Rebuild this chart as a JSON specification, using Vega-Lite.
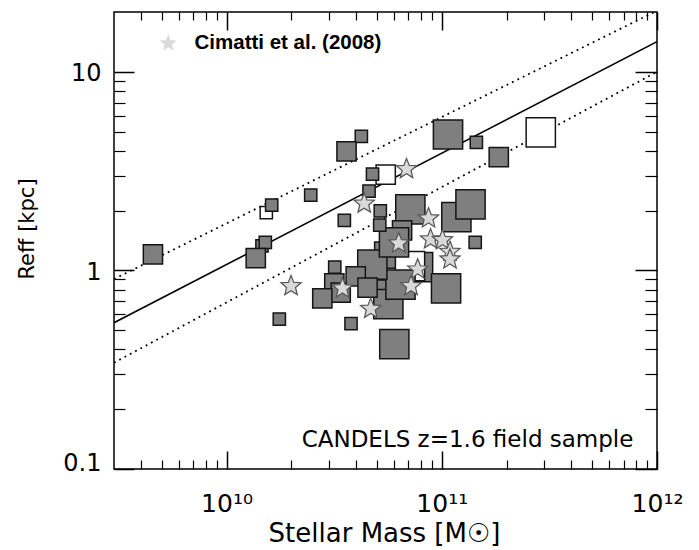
{
  "$schema": "https://vega.github.io/schema/vega-lite/v6.json",
  "width": 543,
  "height": 457,
  "autosize": "none",
  "padding": {"left": 114, "top": 12, "right": 42, "bottom": 81},
  "background": "white",
  "config": {
    "view": {"stroke": "black", "strokeWidth": 1.5},
    "axis": {
      "grid": false,
      "domain": false,
      "tickColor": "black",
      "labelColor": "black",
      "titleColor": "black",
      "labelFont": "DejaVu Sans",
      "titleFont": "DejaVu Sans",
      "titleFontWeight": "normal",
      "labelFlush": false,
      "labelOverlap": false,
      "labelBound": false
    },
    "legend": {"symbolStrokeColor": "#222222", "symbolStrokeWidth": 1.5, "symbolFillColor": "#d9d9d9"}
  },
  "resolve": {"axis": {"x": "independent", "y": "independent"}},
  "layer": [
    {
      "data": {"values": [
        {"mass": 3e9, "reff": 0.545},
        {"mass": 1e12, "reff": 14.17}
      ]},
      "mark": {"type": "line", "color": "black", "strokeWidth": 1.6, "clip": true},
      "encoding": {
        "x": {"field": "mass", "type": "quantitative",
          "scale": {"type": "log", "domain": [3e9, 1e12], "nice": false},
          "axis": {"orient": "bottom", "values": [1e10, 1e11, 1e12], "tickSize": -18, "tickWidth": 1.5,
            "labelExpr": "datum.value < 5e10 ? '10¹⁰' : (datum.value < 5e11 ? '10¹¹' : '10¹²')",
            "labelFontSize": 25, "labelPadding": 40,
            "title": "Stellar Mass [M☉]", "titleFontSize": 26, "titleX": 270, "titleY": 72.7, "titleBaseline": "alphabetic"}},
        "y": {"field": "reff", "type": "quantitative",
          "scale": {"type": "log", "domain": [0.1, 20], "nice": false},
          "axis": {"orient": "left", "values": [0.1, 1, 10], "tickSize": -20, "tickWidth": 1.5,
            "labelExpr": "datum.value < 0.5 ? '0.1' : (datum.value < 5 ? '1' : '10')",
            "labelFontSize": 24, "labelPadding": 33, "labelBaseline": "middle",
            "labelOffset": {"condition": {"test": "datum.value < 0.5", "value": -6}, "value": 2},
            "title": "Reff [kpc]", "titleFontSize": 21, "titleX": -81, "titleY": 216.5, "titleBaseline": "alphabetic", "titleAngle": -90}}
      }
    },
    {
      "data": {"values": [
        {"mass": 3e9, "reff": 0.905, "band": "upper"},
        {"mass": 1e12, "reff": 20.3, "band": "upper"},
        {"mass": 3e9, "reff": 0.343, "band": "lower"},
        {"mass": 1e12, "reff": 10.0, "band": "lower"}
      ]},
      "mark": {"type": "line", "color": "black", "strokeWidth": 1.8, "strokeDash": [1.8, 4.2], "clip": true},
      "encoding": {
        "detail": {"field": "band"},
        "x": {"field": "mass", "type": "quantitative",
          "scale": {"type": "log", "domain": [3e9, 1e12], "nice": false},
          "axis": {"orient": "bottom", "values": [4e9,5e9,6e9,7e9,8e9,9e9,2e10,3e10,4e10,5e10,6e10,7e10,8e10,9e10,2e11,3e11,4e11,5e11,6e11,7e11,8e11,9e11],
            "tickSize": -9, "tickWidth": 1.2, "labels": false, "title": null}},
        "y": {"field": "reff", "type": "quantitative",
          "scale": {"type": "log", "domain": [0.1, 20], "nice": false},
          "axis": {"orient": "left", "values": [0.2,0.3,0.4,0.5,0.6,0.7,0.8,0.9,2,3,4,5,6,7,8,9],
            "tickSize": -11, "tickWidth": 1.2, "labels": false, "title": null}}
      }
    },
    {
      "data": {"values": [
        {"mass": 5.75e10, "reff": 1.102, "kind": "filled", "cls": "S"},
        {"mass": 5.22e10, "reff": 0.834, "kind": "filled", "cls": "S"},
        {"mass": 5.205e10, "reff": 1.296, "kind": "filled", "cls": "S"},
        {"mass": 1.461e10, "reff": 1.327, "kind": "filled", "cls": "S"},
        {"mass": 1.530e10, "reff": 1.951, "kind": "open", "cls": "S"},
        {"mass": 1.621e10, "reff": 2.134, "kind": "filled", "cls": "S"},
        {"mass": 2.461e10, "reff": 2.396, "kind": "filled", "cls": "S"},
        {"mass": 1.514e10, "reff": 1.385, "kind": "filled", "cls": "S"},
        {"mass": 1.367e10, "reff": 1.154, "kind": "filled", "cls": "M"},
        {"mass": 4.55e9, "reff": 1.205, "kind": "filled", "cls": "M"},
        {"mass": 3.526e10, "reff": 1.787, "kind": "filled", "cls": "S"},
        {"mass": 1.759e10, "reff": 0.569, "kind": "filled", "cls": "S"},
        {"mass": 3.788e10, "reff": 0.539, "kind": "filled", "cls": "S"},
        {"mass": 6.02e10, "reff": 0.425, "kind": "filled", "cls": "L"},
        {"mass": 5.646e10, "reff": 0.677, "kind": "filled", "cls": "L"},
        {"mass": 7.76e10, "reff": 1.040, "kind": "filled", "cls": "L"},
        {"mass": 7.12e10, "reff": 1.052, "kind": "open", "cls": "L"},
        {"mass": 6.43e10, "reff": 0.849, "kind": "filled", "cls": "L"},
        {"mass": 4.757e10, "reff": 1.068, "kind": "filled", "cls": "L"},
        {"mass": 3.182e10, "reff": 1.040, "kind": "filled", "cls": "S"},
        {"mass": 3.168e10, "reff": 0.861, "kind": "filled", "cls": "M"},
        {"mass": 3.392e10, "reff": 0.772, "kind": "filled", "cls": "M"},
        {"mass": 2.786e10, "reff": 0.723, "kind": "filled", "cls": "M"},
        {"mass": 3.983e10, "reff": 0.934, "kind": "filled", "cls": "M"},
        {"mass": 4.520e10, "reff": 0.818, "kind": "filled", "cls": "M"},
        {"mass": 7.145e10, "reff": 2.03, "kind": "filled", "cls": "L"},
        {"mass": 6.54e10, "reff": 1.591, "kind": "filled", "cls": "M"},
        {"mass": 6.0e10, "reff": 1.385, "kind": "filled", "cls": "L"},
        {"mass": 5.15e10, "reff": 1.692, "kind": "filled", "cls": "S"},
        {"mass": 5.18e10, "reff": 1.991, "kind": "filled", "cls": "S"},
        {"mass": 4.592e10, "reff": 2.510, "kind": "filled", "cls": "S"},
        {"mass": 5.49e10, "reff": 3.032, "kind": "open", "cls": "M"},
        {"mass": 4.767e10, "reff": 3.057, "kind": "filled", "cls": "S"},
        {"mass": 4.23e10, "reff": 4.733, "kind": "filled", "cls": "S"},
        {"mass": 3.61e10, "reff": 3.978, "kind": "filled", "cls": "M"},
        {"mass": 1.169e11, "reff": 1.857, "kind": "filled", "cls": "L"},
        {"mass": 1.36e11, "reff": 2.151, "kind": "filled", "cls": "L"},
        {"mass": 1.43e11, "reff": 1.385, "kind": "filled", "cls": "S"},
        {"mass": 1.047e11, "reff": 0.811, "kind": "filled", "cls": "L"},
        {"mass": 1.069e11, "reff": 4.833, "kind": "filled", "cls": "L"},
        {"mass": 1.448e11, "reff": 4.415, "kind": "filled", "cls": "S"},
        {"mass": 1.84e11, "reff": 3.714, "kind": "filled", "cls": "M"},
        {"mass": 2.884e11, "reff": 4.958, "kind": "open", "cls": "L"}
      ]},
      "mark": {"type": "point", "shape": "square", "filled": true, "opacity": 1, "stroke": "#151515", "strokeWidth": 1.5, "clip": true},
      "encoding": {
        "x": {"field": "mass", "type": "quantitative",
          "scale": {"type": "log", "domain": [3e9, 1e12], "nice": false},
          "axis": {"orient": "top", "values": [1e10, 1e11, 1e12], "tickSize": -18, "tickWidth": 1.5, "labels": false, "title": null}},
        "y": {"field": "reff", "type": "quantitative",
          "scale": {"type": "log", "domain": [0.1, 20], "nice": false},
          "axis": {"orient": "right", "values": [0.1, 1, 10], "tickSize": -22, "tickWidth": 1.5, "labels": false, "title": null}},
        "fill": {"field": "kind", "type": "nominal", "scale": {"domain": ["filled", "open"], "range": ["#7f7f7f", "#ffffff"]}, "legend": null},
        "size": {"field": "cls", "type": "nominal", "scale": {"type": "ordinal", "domain": ["S", "M", "L"], "range": [150, 370, 855]}, "legend": null}
      }
    },
    {
      "data": {"values": [
        {"mass": 1.994e10, "reff": 0.834, "sample": "Cimatti et al. (2008)"},
        {"mass": 3.458e10, "reff": 0.812, "sample": "Cimatti et al. (2008)"},
        {"mass": 4.676e10, "reff": 0.641, "sample": "Cimatti et al. (2008)"},
        {"mass": 4.362e10, "reff": 2.171, "sample": "Cimatti et al. (2008)"},
        {"mass": 6.86e10, "reff": 3.239, "sample": "Cimatti et al. (2008)"},
        {"mass": 6.31e10, "reff": 1.369, "sample": "Cimatti et al. (2008)"},
        {"mass": 8.68e10, "reff": 1.829, "sample": "Cimatti et al. (2008)"},
        {"mass": 8.87e10, "reff": 1.434, "sample": "Cimatti et al. (2008)"},
        {"mass": 1.008e11, "reff": 1.422, "sample": "Cimatti et al. (2008)"},
        {"mass": 1.092e11, "reff": 1.242, "sample": "Cimatti et al. (2008)"},
        {"mass": 1.092e11, "reff": 1.137, "sample": "Cimatti et al. (2008)"},
        {"mass": 7.73e10, "reff": 1.012, "sample": "Cimatti et al. (2008)"},
        {"mass": 7.2e10, "reff": 0.834, "sample": "Cimatti et al. (2008)"}
      ]},
      "mark": {"type": "point", "filled": false, "opacity": 1, "fill": "#d9d9d9", "fillOpacity": 1, "stroke": "#555555", "strokeWidth": 1.2, "size": 450, "clip": true},
      "encoding": {
        "x": {"field": "mass", "type": "quantitative",
          "scale": {"type": "log", "domain": [3e9, 1e12], "nice": false},
          "axis": {"orient": "top", "values": [4e9,5e9,6e9,7e9,8e9,9e9,2e10,3e10,4e10,5e10,6e10,7e10,8e10,9e10,2e11,3e11,4e11,5e11,6e11,7e11,8e11,9e11],
            "tickSize": -8, "tickWidth": 1.2, "labels": false, "title": null}},
        "y": {"field": "reff", "type": "quantitative",
          "scale": {"type": "log", "domain": [0.1, 20], "nice": false},
          "axis": {"orient": "right", "values": [0.2,0.3,0.4,0.5,0.6,0.7,0.8,0.9,2,3,4,5,6,7,8,9],
            "tickSize": -12, "tickWidth": 1.2, "labels": false, "title": null}},
        "shape": {"field": "sample", "type": "nominal",
          "scale": {"range": ["M0,-1L0.26,-0.34L0.951,-0.309L0.42,0.137L0.588,0.809L0,0.44L-0.588,0.809L-0.42,0.137L-0.951,-0.309L-0.26,-0.34Z"]},
          "legend": {"orient": "none", "legendX": 44, "legendY": 21, "title": null, "padding": 0,
            "symbolSize": 320, "symbolOpacity": 1,
            "labelFont": "Liberation Sans", "labelFontWeight": "bold", "labelFontSize": 20.5, "labelOffset": 16, "labelColor": "black", "labelLimit": 400,
            "encode": {"symbols": {"update": {"stroke": {"value": "#222222"}, "strokeWidth": {"value": 1.5}, "strokeOpacity": {"value": 1}, "opacity": {"value": 1}, "fill": {"value": "#d9d9d9"}, "fillOpacity": {"value": 1}}}}}}
      }
    },
    {
      "data": {"values": [
        {"mass": 7.77e11, "reff": 0.1295, "label": "CANDELS z=1.6 field sample"}
      ]},
      "mark": {"type": "text", "align": "right", "baseline": "alphabetic", "font": "DejaVu Sans", "fontSize": 23, "color": "black"},
      "encoding": {
        "x": {"field": "mass", "type": "quantitative", "scale": {"type": "log", "domain": [3e9, 1e12], "nice": false}, "axis": null},
        "y": {"field": "reff", "type": "quantitative", "scale": {"type": "log", "domain": [0.1, 20], "nice": false}, "axis": null},
        "text": {"field": "label"}
      }
    }
  ]
}
